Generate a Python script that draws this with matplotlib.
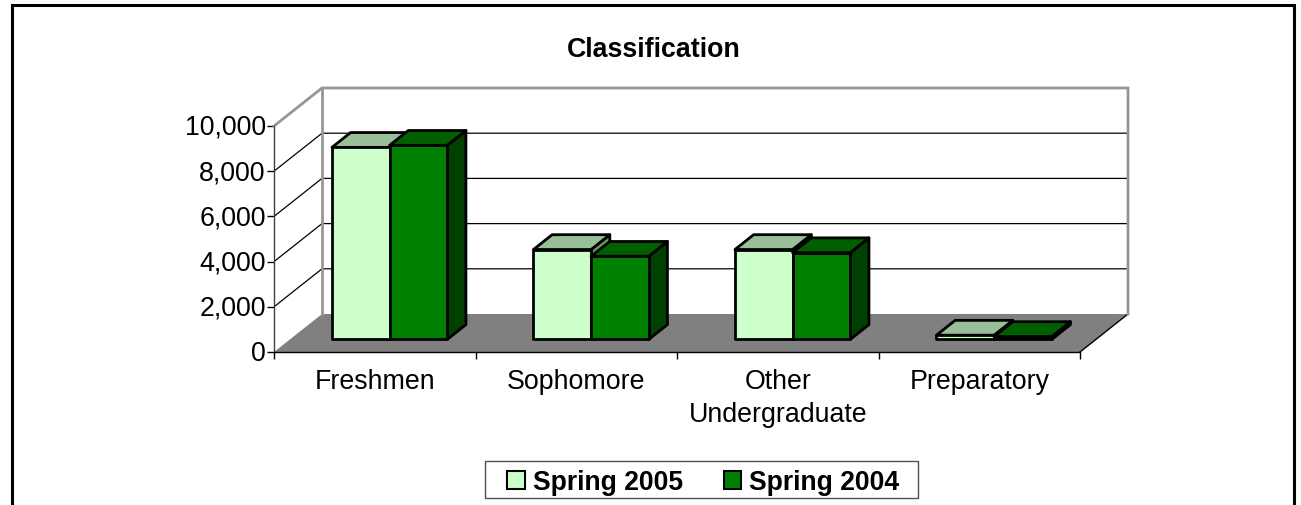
import matplotlib
matplotlib.use("Agg")
import matplotlib.pyplot as plt
from matplotlib.lines import Line2D
from matplotlib.patches import Patch, Polygon, Rectangle
from matplotlib.transforms import ScaledTranslation

plt.rcParams['font.family'] = ['Liberation Sans', 'DejaVu Sans']

categories = ['Freshmen', 'Sophomore', 'Other\nUndergraduate', 'Preparatory']
spring_2005 = [8500, 3980, 3980, 190]
spring_2004 = [8590, 3680, 3840, 130]
y_ticks = [0, 2000, 4000, 6000, 8000, 10000]

W, H = 1301, 506
PX_CAT = 201.5         # px per category
PX_VAL = 226 / 10000   # px per value unit
DEPTH_X = 48 / PX_CAT
DEPTH_Y = 38 / PX_VAL
BAR_W = 0.286

fig = plt.figure(figsize=(W / 100, H / 100), dpi=100)
ax = fig.add_axes([274 / W, 1 - 353 / H, 854 / W, 264 / H])
x_max = 4 + DEPTH_X
y_max = 10000 + DEPTH_Y
ax.set_xlim(0, x_max)
ax.set_ylim(0, y_max)
ax.patch.set_visible(False)

for name in ['top', 'right']:
    ax.spines[name].set_visible(False)
ax.spines['left'].set_bounds(0, 10000)
ax.spines['left'].set_color('#404040')
ax.spines['left'].set_linewidth(1.0)
ax.spines['bottom'].set_bounds(0, 4)
ax.spines['bottom'].set_linewidth(1.0)

ax.set_yticks(y_ticks)
ax.set_yticklabels([f'{v:,}' for v in y_ticks], fontsize=19.3)
ax.tick_params(axis='y', length=5, width=1, pad=1)
# nudge the value labels up a little
up = ScaledTranslation(0, 2 / 100, fig.dpi_scale_trans)
for lab in ax.get_yticklabels():
    lab.set_transform(lab.get_transform() + up)
ax.set_xticks(range(5))
ax.set_xticklabels([])
ax.set_xticks([i + 0.5 for i in range(4)], minor=True)
ax.set_xticklabels(categories, minor=True, fontsize=19.3, linespacing=1.37)
ax.tick_params(axis='x', which='major', length=5, width=1)
ax.tick_params(axis='x', which='minor', length=0, pad=11.5)


def pt(x, y, d):
    # oblique projection: d=0 is the front plane, d=1 the back wall
    return (x + d * DEPTH_X, y + d * DEPTH_Y)


# floor
ax.add_patch(Polygon([pt(0, 0, 0), pt(4, 0, 0), pt(4, 0, 1), pt(0, 0, 1)],
                     facecolor='#808080', edgecolor='none', zorder=1))
ax.plot([4, 4 + DEPTH_X], [0, DEPTH_Y], color='black', lw=1, zorder=2)

# gridlines on the side and back walls
for v in y_ticks[1:-1]:
    ax.plot([0, DEPTH_X, x_max], [v, v + DEPTH_Y, v + DEPTH_Y],
            color='black', lw=0.9, zorder=2)

# wall outline
ax.plot([0, DEPTH_X, x_max, x_max], [10000, y_max, y_max, DEPTH_Y],
        color='#969696', lw=2, zorder=2, clip_on=False, solid_joinstyle='miter')
ax.plot([DEPTH_X, DEPTH_X], [y_max, DEPTH_Y], color='#969696', lw=2, zorder=2)


def draw_bar(x0, value, front, top, side, z):
    x1 = x0 + BAR_W
    d0, d1 = 0.33, 0.72
    faces = [
        ([pt(x1, 0, d0), pt(x1, 0, d1), pt(x1, value, d1), pt(x1, value, d0)], side),
        ([pt(x0, value, d0), pt(x1, value, d0), pt(x1, value, d1), pt(x0, value, d1)], top),
        ([pt(x0, 0, d0), pt(x1, 0, d0), pt(x1, value, d0), pt(x0, value, d0)], front),
    ]
    for verts, color in faces:
        ax.add_patch(Polygon(verts, facecolor=color, edgecolor='black', lw=2,
                             joinstyle='round', zorder=z, clip_on=False))


for i in range(4):
    center = i + 0.495
    draw_bar(center - BAR_W, spring_2005[i], '#CCFFCC', '#99BF99', '#669966', 3 + i)
    draw_bar(center, spring_2004[i], '#008000', '#006000', '#004000', 3 + i)

fig.text(654 / W, 1 - 50 / H, 'Classification', fontsize=19.3, fontweight='bold',
         ha='center', va='center')

# legend box
fig.add_artist(Rectangle((485 / W, 1 - 499 / H), 433 / W, 37 / H, transform=fig.transFigure,
                         facecolor='white', edgecolor='#505050', lw=1.0))
handles = [Patch(facecolor='#CCFFCC', edgecolor='black', lw=1.5, label='Spring 2005'),
           Patch(facecolor='#008000', edgecolor='black', lw=1.5, label='Spring 2004')]
leg = fig.legend(handles=handles, loc='center', bbox_to_anchor=(703.5 / W, 1 - 483 / H),
                 ncol=2, frameon=False,
                 prop={'size': 19.1, 'weight': 'bold'}, handlelength=0.65, handleheight=0.65,
                 handletextpad=0.3, columnspacing=1.56, borderpad=0.3, borderaxespad=0)

# outer frame, open at the bottom
fig.add_artist(Line2D([11.5 / W, 11.5 / W, 1293.5 / W, 1293.5 / W],
                      [0, 1 - 5.5 / H, 1 - 5.5 / H, 0],
                      transform=fig.transFigure, color='black', lw=2.2,
                      solid_joinstyle='miter'))

fig.savefig('out.png', dpi=100)
